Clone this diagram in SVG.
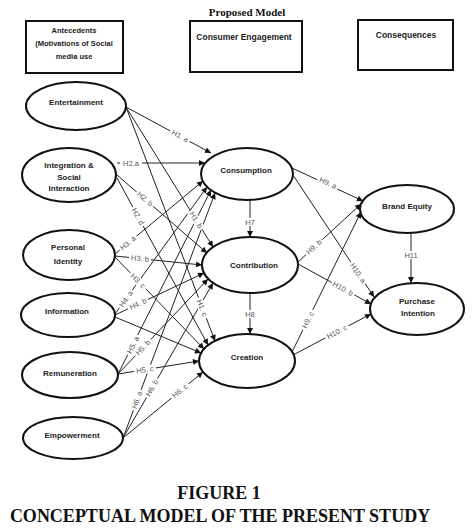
<svg xmlns="http://www.w3.org/2000/svg" width="473" height="528" viewBox="0 0 473 528">
<defs>
<marker id="arr" viewBox="0 0 10 10" refX="10" refY="5" markerWidth="7" markerHeight="6" orient="auto" markerUnits="userSpaceOnUse">
<path d="M0,0 L10,5 L0,10 z" fill="#111"/>
</marker>
<style>
.box{fill:#fff;stroke:#111;stroke-width:2}
.node{fill:#fff;stroke:#111;stroke-width:2}
.nt{font-family:"Liberation Sans",Arial,sans-serif;font-size:8px;font-weight:bold;fill:#222;text-anchor:middle}
.ht{font-family:"Liberation Sans",Arial,sans-serif;font-size:7.5px;font-weight:bold;fill:#222;text-anchor:middle}
.ht2{font-family:"Liberation Sans",Arial,sans-serif;font-size:8.5px;font-weight:bold;fill:#222;text-anchor:middle}
.ln{stroke:#222;stroke-width:1;fill:none;marker-end:url(#arr)}
.bg{fill:#fff}
.lb{font-family:"Liberation Sans",Arial,sans-serif;font-size:7.5px;fill:#555;text-anchor:middle;dominant-baseline:central}
.cap{font-family:"Liberation Serif","Times New Roman",serif;font-weight:bold;fill:#111;text-anchor:middle}
</style>
</defs>
<rect width="473" height="528" fill="#fff"/>

<text class="cap" x="247" y="16" font-size="11">Proposed Model</text>

<g id="hdr-antecedents">
<rect class="box" x="26" y="21" width="97" height="52"/>
<text class="ht" x="74" y="33">Antecedents</text>
<text class="ht" x="74" y="46">(Motivations of Social</text>
<text class="ht" x="74" y="59">media use</text>
</g>
<g id="hdr-engagement">
<rect class="box" x="190" y="21" width="112" height="51"/>
<text class="ht2" x="244" y="40">Consumer Engagement</text>
</g>
<g id="hdr-consequences">
<rect class="box" x="358" y="20" width="95" height="50"/>
<text class="ht2" x="406" y="38">Consequences</text>
</g>

<g id="connectors">
<line class="ln" x1="126" y1="107" x2="211" y2="153"/>
<line class="ln" x1="126" y1="107" x2="213" y2="247"/>
<line class="ln" x1="126" y1="107" x2="215" y2="341"/>
<line class="ln" x1="117" y1="163" x2="205" y2="163"/>
<line class="ln" x1="117" y1="175" x2="207" y2="253"/>
<line class="ln" x1="117" y1="178" x2="208" y2="345"/>
<line class="ln" x1="115" y1="254" x2="203" y2="181"/>
<line class="ln" x1="115" y1="256" x2="202" y2="265"/>
<line class="ln" x1="115" y1="257" x2="204" y2="349"/>
<line class="ln" x1="115" y1="314" x2="207" y2="187"/>
<line class="ln" x1="115" y1="315" x2="204" y2="273"/>
<line class="ln" x1="115" y1="317" x2="201" y2="353"/>
<line class="ln" x1="118" y1="374" x2="211" y2="190"/>
<line class="ln" x1="118" y1="374" x2="208" y2="279"/>
<line class="ln" x1="118" y1="374" x2="199" y2="361"/>
<line class="ln" x1="123" y1="438" x2="215" y2="193"/>
<line class="ln" x1="123" y1="438" x2="213" y2="283"/>
<line class="ln" x1="123" y1="438" x2="203" y2="372"/>
<line class="ln" x1="250" y1="200" x2="250" y2="237"/>
<line class="ln" x1="250" y1="293" x2="250" y2="334"/>
<line class="ln" x1="292" y1="168" x2="363" y2="201"/>
<line class="ln" x1="291" y1="172" x2="374" y2="297"/>
<line class="ln" x1="298" y1="262" x2="361" y2="204"/>
<line class="ln" x1="298" y1="264" x2="371" y2="304"/>
<line class="ln" x1="292" y1="352" x2="361" y2="212"/>
<line class="ln" x1="293" y1="355" x2="371" y2="314"/>
<line class="ln" x1="411" y1="233" x2="411" y2="283"/>

<g transform="translate(180 136) rotate(28.4)"><rect class="bg" x="-11" y="-4" width="22" height="8"/><text class="lb">H1. a</text></g>
<g transform="translate(196 220) rotate(58.1)"><rect class="bg" x="-11" y="-4" width="22" height="8"/><text class="lb">H1. b</text></g>
<g transform="translate(202 308) rotate(69.2)"><rect class="bg" x="-11" y="-4" width="22" height="8"/><text class="lb">H1. c</text></g>
<g transform="translate(131 163)"><rect class="bg" x="-11" y="-4" width="22" height="8"/><text class="lb">H2.a</text></g>
<g transform="translate(145 199) rotate(40.9)"><rect class="bg" x="-11" y="-4" width="22" height="8"/><text class="lb">H2. b</text></g>
<g transform="translate(138 216.5) rotate(61.4)"><rect class="bg" x="-11" y="-4" width="22" height="8"/><text class="lb">H2. d</text></g>
<g transform="translate(128 243) rotate(-39.7)"><rect class="bg" x="-11" y="-4" width="22" height="8"/><text class="lb">H3. a</text></g>
<g transform="translate(140 258.6) rotate(5.9)"><rect class="bg" x="-11" y="-4" width="22" height="8"/><text class="lb">H3. b</text></g>
<g transform="translate(138 281) rotate(46)"><rect class="bg" x="-11" y="-4" width="22" height="8"/><text class="lb">H3. c</text></g>
<g transform="translate(126 299) rotate(-54)"><rect class="bg" x="-11" y="-4" width="22" height="8"/><text class="lb">H4. a</text></g>
<g transform="translate(138 304) rotate(-25.3)"><rect class="bg" x="-11" y="-4" width="22" height="8"/><text class="lb">H4. b</text></g>
<g transform="translate(133 345) rotate(-63.2)"><rect class="bg" x="-11" y="-4" width="22" height="8"/><text class="lb">H5. a</text></g>
<g transform="translate(143 347.6) rotate(-46.5)"><rect class="bg" x="-11" y="-4" width="22" height="8"/><text class="lb">H5. b</text></g>
<g transform="translate(145 369.7) rotate(-9.1)"><rect class="bg" x="-11" y="-4" width="22" height="8"/><text class="lb">H5. c</text></g>
<g transform="translate(137 400) rotate(-69.4)"><rect class="bg" x="-11" y="-4" width="22" height="8"/><text class="lb">H6. a</text></g>
<g transform="translate(152 388) rotate(-59.9)"><rect class="bg" x="-11" y="-4" width="22" height="8"/><text class="lb">H6. b</text></g>
<g transform="translate(180 391) rotate(-39.5)"><rect class="bg" x="-11" y="-4" width="22" height="8"/><text class="lb">H6. c</text></g>
<g transform="translate(250 222)"><rect class="bg" x="-6" y="-4" width="12" height="8"/><text class="lb">H7</text></g>
<g transform="translate(250 314)"><rect class="bg" x="-6" y="-4" width="12" height="8"/><text class="lb">H8</text></g>
<g transform="translate(328 183) rotate(25)"><rect class="bg" x="-11" y="-4" width="22" height="8"/><text class="lb">H9. a</text></g>
<g transform="translate(314 247) rotate(-42.6)"><rect class="bg" x="-11" y="-4" width="22" height="8"/><text class="lb">H9. b</text></g>
<g transform="translate(308 320) rotate(-63.8)"><rect class="bg" x="-11" y="-4" width="22" height="8"/><text class="lb">H9. c</text></g>
<g transform="translate(358 273) rotate(56.4)"><rect class="bg" x="-13" y="-4" width="26" height="8"/><text class="lb">H10. a</text></g>
<g transform="translate(343 288.7) rotate(28.7)"><rect class="bg" x="-13" y="-4" width="26" height="8"/><text class="lb">H10. b</text></g>
<g transform="translate(337 332) rotate(-27.7)"><rect class="bg" x="-13" y="-4" width="26" height="8"/><text class="lb">H10. c</text></g>
<g transform="translate(411 255)"><rect class="bg" x="-8" y="-4" width="16" height="8"/><text class="lb">H11</text></g>
</g>

<g id="entertainment">
<ellipse class="node" cx="76" cy="106" rx="50" ry="24"/>
<text class="nt" x="76" y="105">Entertainment</text>
</g>
<g id="integration">
<ellipse class="node" cx="69" cy="175" rx="47" ry="27"/>
<text class="nt" x="69" y="168">Integration &amp;</text>
<text class="nt" x="69" y="180">Social</text>
<text class="nt" x="69" y="191">Interaction</text>
</g>
<g id="personal-identity">
<ellipse class="node" cx="69" cy="255" rx="46" ry="25"/>
<text class="nt" x="68" y="250">Personal</text>
<text class="nt" x="68" y="264">Identity</text>
</g>
<g id="information">
<ellipse class="node" cx="68" cy="315" rx="47" ry="22"/>
<text class="nt" x="67" y="314">Information</text>
</g>
<g id="remuneration">
<ellipse class="node" cx="70" cy="375" rx="48" ry="23"/>
<text class="nt" x="70" y="376">Remuneration</text>
</g>
<g id="empowerment">
<ellipse class="node" cx="73" cy="438" rx="50" ry="21"/>
<text class="nt" x="72" y="438">Empowerment</text>
</g>
<g id="consumption">
<ellipse class="node" cx="247" cy="174" rx="46" ry="26"/>
<text class="nt" x="246" y="173">Consumption</text>
</g>
<g id="contribution">
<ellipse class="node" cx="250" cy="265" rx="48" ry="28"/>
<text class="nt" x="254" y="268">Contribution</text>
</g>
<g id="creation">
<ellipse class="node" cx="247" cy="361" rx="48" ry="27"/>
<text class="nt" x="247" y="360">Creation</text>
</g>
<g id="brand-equity">
<ellipse class="node" cx="407" cy="209" rx="47" ry="24"/>
<text class="nt" x="407" y="209">Brand Equity</text>
</g>
<g id="purchase-intention">
<ellipse class="node" cx="417" cy="309" rx="47" ry="26"/>
<text class="nt" x="417" y="304">Purchase</text>
<text class="nt" x="418" y="316">Intention</text>
</g>

<text class="cap" x="219" y="499" font-size="18">FIGURE 1</text>
<text class="cap" x="220" y="522" font-size="18">CONCEPTUAL MODEL OF THE PRESENT STUDY</text>
</svg>
